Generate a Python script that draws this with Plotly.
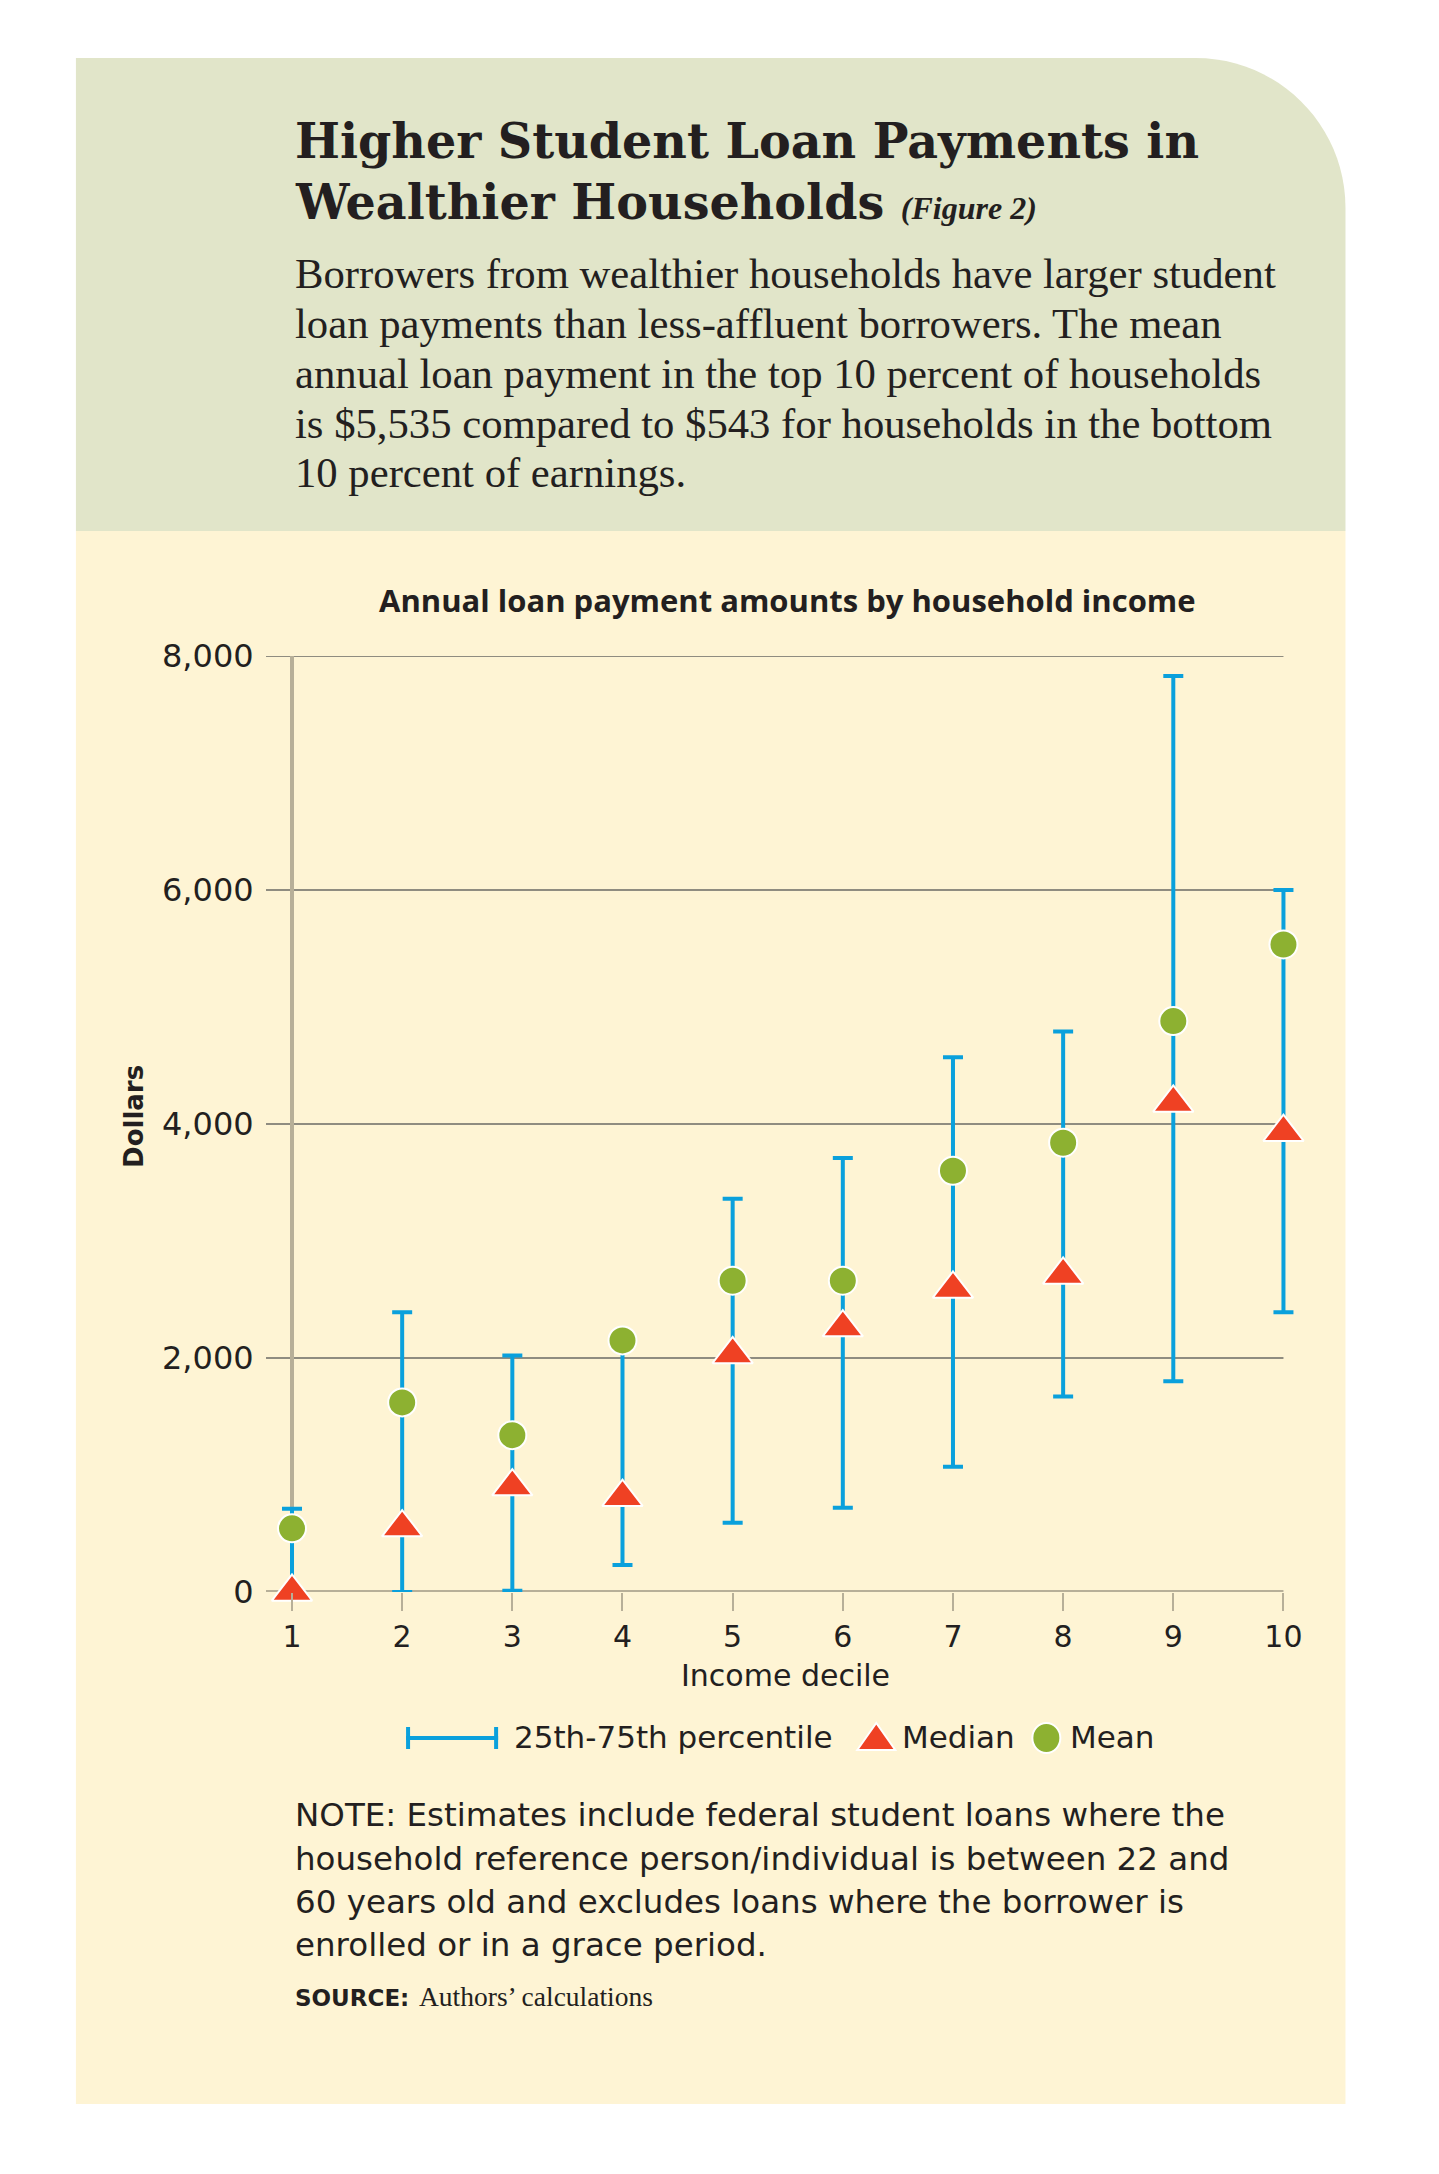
import plotly.graph_objects as go

# ---------------- data ----------------
deciles = [1, 2, 3, 4, 5, 6, 7, 8, 9, 10]
p25 = [0, 0, 10, 230, 590, 720, 1070, 1670, 1800, 2390]
p75 = [710, 2390, 2020, 2140, 3360, 3710, 4570, 4790, 7830, 6000]
median = [0, 550, 900, 810, 2030, 2260, 2590, 2710, 4180, 3930]
mean = [543, 1620, 1340, 2150, 2660, 2660, 3600, 3840, 4880, 5535]
ytick_vals = [0, 2000, 4000, 6000, 8000]
ytick_text = ["0", "2,000", "4,000", "6,000", "8,000"]

headline = ["Higher Student Loan Payments in", "Wealthier Households"]
figure_tag = "(Figure 2)"
body_lines = [
    "Borrowers from wealthier households have larger student",
    "loan payments than less-affluent borrowers. The mean",
    "annual loan payment in the top 10 percent of households",
    "is $5,535 compared to $543 for households in the bottom",
    "10 percent of earnings.",
]
chart_title = "Annual loan payment amounts by household income"
note_lines = [
    "NOTE: Estimates include federal student loans where the",
    "household reference person/individual is between 22 and",
    "60 years old and excludes loans where the borrower is",
    "enrolled or in a grace period.",
]
legend_labels = ["25th-75th percentile", "Median", "Mean"]

# ---------------- style ----------------
W, H = 1439, 2174
OFF = 8  # page body margin
TXT = "#231f20"
BLUE = "#0aa0dc"
RED = "#ef4123"
GREEN = "#8db131"
GRID = "#8f8c80"
AX = "#b7af98"
PANEL_G = "#e1e5c9"
PANEL_C = "#fef4d4"
SANS = "DejaVu Sans"
SERIF = "Liberation Serif"
HEAD = "DejaVu Serif"
KMID = {SANS: 0.346, SERIF: 0.3375, HEAD: 0.346, "Open Sans": 0.388}

# plot area (page pixels)
STEP = (1283 - 292) / 9.0
X_LO = 1 - 26 / STEP
X_HI = 10.25
PL = 266
PR = PL + (X_HI - X_LO) * STEP
PT, PB = 656, 1592


def fx(px):
    return (px - PL) / (PR - PL)


def fy(py):
    return (PB - py) / (PB - PT)


annotations = []


def txt(text, px, base, size, family, weight="normal", anchor="left", color=TXT):
    annotations.append(dict(
        text=text, x=fx(px), y=fy(base - KMID[family] * size), xref="paper", yref="paper",
        xanchor=anchor, yanchor="middle", showarrow=False,
        font=dict(family=family, size=size, color=color, weight=weight)))


fig = go.Figure()

fig.add_trace(go.Scatter(
    x=deciles, y=p25, mode="markers",
    marker=dict(size=1, opacity=0),
    error_y=dict(type="data", symmetric=False,
                 array=[h - l for h, l in zip(p75, p25)],
                 arrayminus=[0] * len(p25),
                 color=BLUE, thickness=4, width=10),
    cliponaxis=False, showlegend=False, hoverinfo="skip"))

fig.add_trace(go.Scatter(
    x=deciles, y=median, mode="markers", name=legend_labels[1],
    marker=dict(symbol="triangle-up", size=35, color=RED, line=dict(color="white", width=2)),
    cliponaxis=False, showlegend=False))

fig.add_trace(go.Scatter(
    x=deciles, y=mean, mode="markers", name=legend_labels[2],
    marker=dict(symbol="circle", size=28, color=GREEN, line=dict(color="white", width=2)),
    cliponaxis=False, showlegend=False))

# ---------------- text ----------------
txt(headline[0], 293, 157, 47.6, HEAD, weight="bold")
txt(headline[1] + " <span style='font-family:Liberation Serif;font-size:32px;font-style:italic'>"
    + figure_tag + "</span>", 293, 218, 47.6, HEAD, weight="bold")
for i, line in enumerate(body_lines):
    txt(line, 293, 288.3 + i * 49.75, 42.7, SERIF)

annotations.append(dict(
    text=chart_title, x=fx(787), y=fy(611.7 - 0.388 * 31), xref="paper", yref="paper",
    xanchor="center", yanchor="middle", showarrow=False,
    font=dict(family="Open Sans", size=31, color=TXT, weight="bold")))

txt("Income decile", 785, 1686, 30, SANS, anchor="center")
annotations.append(dict(
    text="Dollars", x=fx(134), y=fy(1116), xref="paper", yref="paper",
    xanchor="center", yanchor="middle", showarrow=False, textangle=-90,
    font=dict(family=SANS, size=26, color=TXT, weight="bold")))

for i, line in enumerate(note_lines):
    txt(line, 293, 1826.5 + i * 43.3, 32.5, SANS)
txt("SOURCE:", 293, 2006, 23, SANS, weight="bold")
txt("Authors’ calculations", 417, 2006, 27.5, SERIF)

# legend texts
txt(legend_labels[0], 512, 1748, 31, SANS)
txt(legend_labels[1], 900, 1748, 31, SANS)
txt(legend_labels[2], 1068, 1748, 31, SANS)

# ---------------- shapes (panels, grid, legend keys) ----------------
k = 0.5523
rad = 150
path = "M {},{} L {},{} L {},{} ".format(fx(76), fy(531), fx(76), fy(58), fx(1345 - rad), fy(58))
path += "C {},{} {},{} {},{} ".format(fx(1345 - rad + k * rad), fy(58), fx(1345), fy(58 + rad - k * rad),
                                      fx(1345), fy(58 + rad))
path += "L {},{} Z".format(fx(1345), fy(531))

shapes = [
    dict(type="rect", xref="paper", yref="paper", x0=fx(76), x1=fx(1345), y0=fy(2104), y1=fy(531),
         fillcolor=PANEL_C, line=dict(width=0), layer="below"),
    dict(type="path", xref="paper", yref="paper", path=path,
         fillcolor=PANEL_G, line=dict(width=0), layer="below"),
]
# horizontal gridlines ending at the last decile
for v in ytick_vals[1:]:
    shapes.append(dict(type="line", xref="x", yref="y", x0=X_LO, x1=deciles[-1], y0=v, y1=v,
                       line=dict(color=GRID, width=2), layer="below"))
shapes.append(dict(type="line", xref="x", yref="y", x0=X_LO - 0.03, x1=deciles[-1], y0=0, y1=0,
                   line=dict(color=AX, width=4), layer="below"))

shapes += [
    # legend: IQR key
    dict(type="line", xref="paper", yref="paper", x0=fx(406), x1=fx(498), y0=fy(1738), y1=fy(1738),
         line=dict(color=BLUE, width=4)),
    dict(type="line", xref="paper", yref="paper", x0=fx(408), x1=fx(408), y0=fy(1727), y1=fy(1749),
         line=dict(color=BLUE, width=4)),
    dict(type="line", xref="paper", yref="paper", x0=fx(496), x1=fx(496), y0=fy(1727), y1=fy(1749),
         line=dict(color=BLUE, width=4)),
    # legend: median key
    dict(type="path", xref="paper", yref="paper", xsizemode="pixel", ysizemode="pixel",
         xanchor=fx(876), yanchor=fy(1737), path="M -19,-13 L 19,-13 L 0,14 Z",
         fillcolor=RED, line=dict(color="white", width=2)),
    # legend: mean key
    dict(type="circle", xref="paper", yref="paper", xsizemode="pixel", ysizemode="pixel",
         xanchor=fx(1046), yanchor=fy(1738), x0=-14, x1=14, y0=-15, y1=15,
         fillcolor=GREEN, line=dict(color="white", width=2)),
]

fig.update_layout(
    width=W, height=H,
    margin=dict(l=PL - OFF, r=W - (PR - OFF), t=PT - OFF, b=H - (PB - OFF), pad=0),
    paper_bgcolor="white", plot_bgcolor="rgba(0,0,0,0)",
    showlegend=False,
    annotations=annotations, shapes=shapes,
    xaxis=dict(range=[X_LO, X_HI], tickvals=deciles, ticks="outside", ticklen=18, tickwidth=2,
               tickcolor=AX, showgrid=False, zeroline=False, showline=False,
               tickfont=dict(family=SANS, size=30, color=TXT), fixedrange=True),
    yaxis=dict(range=[-1, 8001], tickvals=ytick_vals, ticktext=ytick_text, showgrid=False,
               zeroline=False,
               showline=True, linecolor=AX, linewidth=4, anchor="free", position=fx(292),
               layer="below traces", ticks="", ticklabelstandoff=30,
               tickfont=dict(family=SANS, size=32, color=TXT), fixedrange=True),
)

fig.write_html("out.html")
